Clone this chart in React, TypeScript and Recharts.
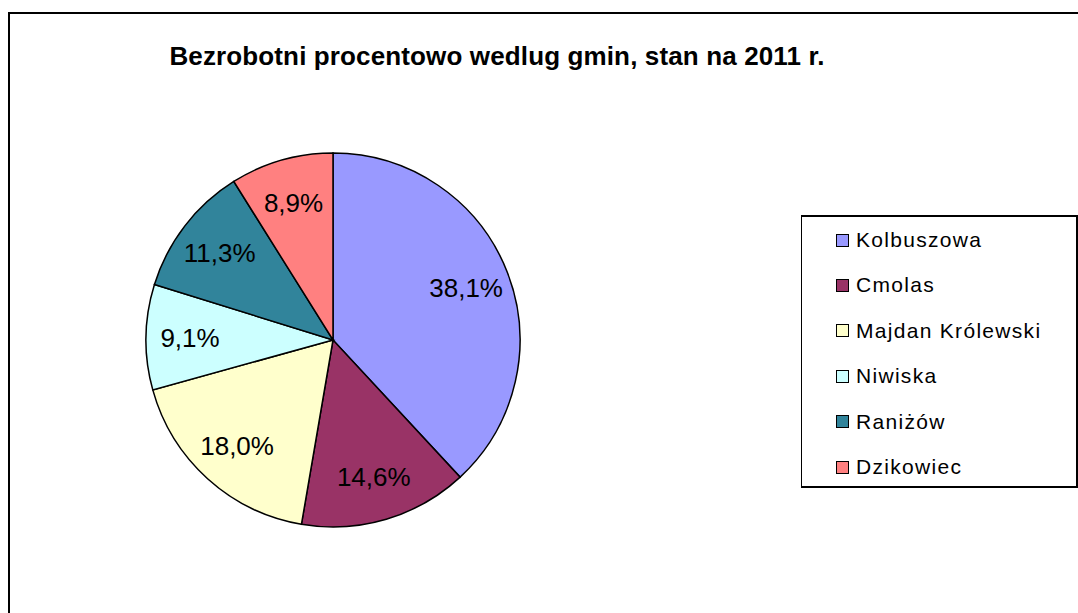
import React from "react";
import { PieChart, Pie, Cell, Legend } from "recharts";

const categories = ["Kolbuszowa", "Cmolas", "Majdan Królewski", "Niwiska", "Raniżów", "Dzikowiec"];
const values = [38.1, 14.6, 18.0, 9.1, 11.3, 8.9];
const colors = ["#9999FF", "#993366", "#FFFFCC", "#CCFFFF", "#31849B", "#FF8080"];
const title = "Bezrobotni procentowo wedlug gmin, stan na 2011 r.";

const data = categories.map((name, i) => ({ name, value: values[i] }));

const RAD = Math.PI / 180;

const renderLabel = (props: any) => {
  const { cx, cy, midAngle, value } = props;
  const r = 143;
  const x = cx + r * Math.cos(-midAngle * RAD);
  const y = cy + r * Math.sin(-midAngle * RAD);
  return (
    <text
      x={x}
      y={y}
      textAnchor="middle"
      dominantBaseline="central"
      fill="#000"
      fontSize={26}
      fontFamily="'Liberation Sans', Arial, sans-serif"
    >
      {value.toFixed(1).replace(".", ",") + "%"}
    </text>
  );
};

const renderLegend = () => {
  return (
    <div
      style={{
        boxSizing: "border-box",
        width: 277,
        height: 273,
        borderStyle: "solid",
        borderColor: "#000",
        borderWidth: "2px 2px 2px 1px",
        background: "#fff",
        position: "relative",
      }}
    >
      {categories.map((name, i) => (
        <div
          key={name}
          style={{
            position: "absolute",
            left: 34,
            top: 23 + i * 45.4 - 12,
            height: 24,
            display: "flex",
            alignItems: "center",
            fontFamily: "'Liberation Sans', Arial, sans-serif",
            fontSize: 21,
            letterSpacing: 1.3,
            color: "#000",
            whiteSpace: "nowrap",
          }}
        >
          <span
            style={{
              display: "inline-block",
              boxSizing: "border-box",
              width: 13,
              height: 13,
              background: colors[i],
              border: "1.5px solid #000",
              marginRight: 7,
            }}
          />
          {name}
        </div>
      ))}
    </div>
  );
};

export default function App() {
  return (
    <div style={{ position: "fixed", left: 0, top: 0, width: 1078, height: 613, overflow: "hidden", background: "#fff" }}>
      <div
        style={{
          position: "absolute",
          left: 8,
          top: 12,
          width: 1200,
          height: 800,
          border: "2px solid #000",
        }}
      />
      <div
        style={{
          position: "absolute",
          left: 0,
          width: 994,
          top: 40,
          textAlign: "center",
          fontFamily: "'Liberation Sans', Arial, sans-serif",
          fontWeight: "bold",
          fontSize: 26,
          letterSpacing: 0.13,
          lineHeight: "32px",
          color: "#000",
          whiteSpace: "nowrap",
        }}
      >
        {title}
      </div>
      <div style={{ position: "absolute", left: 0, top: 0 }}>
        <PieChart width={1078} height={613} margin={{ top: 0, right: 0, bottom: 0, left: 0 }}>
          <Pie
            data={data}
            dataKey="value"
            nameKey="name"
            cx={333}
            cy={340}
            outerRadius={187}
            startAngle={90}
            endAngle={-270}
            stroke="#000"
            strokeWidth={1.5}
            label={renderLabel}
            labelLine={false}
            isAnimationActive={false}
          >
            {data.map((d, i) => (
              <Cell key={d.name} fill={colors[i]} stroke="#000" strokeWidth={1.5} />
            ))}
          </Pie>
          <Legend
            content={renderLegend}
            wrapperStyle={{ left: 801, top: 215, width: 277, height: 273, bottom: "auto", right: "auto" }}
          />
        </PieChart>
      </div>
    </div>
  );
}
